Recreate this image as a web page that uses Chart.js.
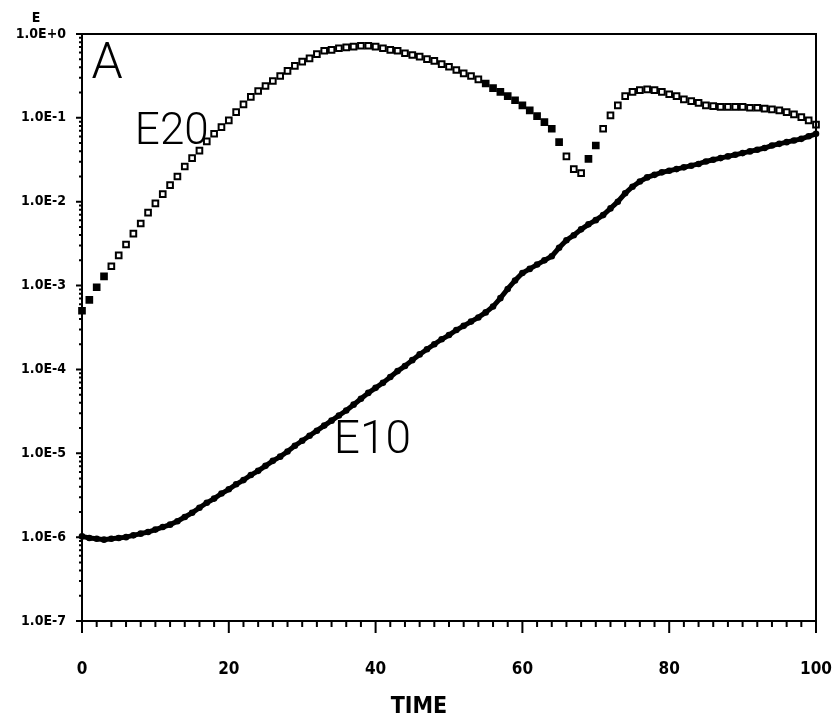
<!DOCTYPE html>
<html>
<head>
<meta charset="utf-8">
<script src="https://cdn.jsdelivr.net/npm/chart.js@4.4.0/dist/chart.umd.min.js"></script>
<style>
  html, body { margin: 0; padding: 0; background: #fff; }
  #wrap { width: 840px; height: 727px; }
</style>
</head>
<body>
<div id="wrap"><canvas id="energyChart"></canvas></div>
<script>
// time samples (one every unit)
const time = [
  0, 1, 2, 3, 4, 5, 6, 7, 8, 9, 10, 11, 12, 13, 14, 15, 16, 17, 18, 19,
  20, 21, 22, 23, 24, 25, 26, 27, 28, 29, 30, 31, 32, 33, 34, 35, 36, 37, 38, 39,
  40, 41, 42, 43, 44, 45, 46, 47, 48, 49, 50, 51, 52, 53, 54, 55, 56, 57, 58, 59,
  60, 61, 62, 63, 64, 65, 66, 67, 68, 69, 70, 71, 72, 73, 74, 75, 76, 77, 78, 79,
  80, 81, 82, 83, 84, 85, 86, 87, 88, 89, 90, 91, 92, 93, 94, 95, 96, 97, 98, 99, 100
];

// mode 1 energy
const e10 = [
  1.02e-6, 9.77e-7, 9.55e-7, 9.33e-7, 9.55e-7, 9.77e-7, 1.00e-6, 1.05e-6, 1.10e-6, 1.15e-6,
  1.23e-6, 1.32e-6, 1.41e-6, 1.55e-6, 1.74e-6, 1.95e-6, 2.24e-6, 2.57e-6, 2.88e-6, 3.31e-6,
  3.72e-6, 4.27e-6, 4.79e-6, 5.50e-6, 6.17e-6, 7.08e-6, 8.13e-6, 9.12e-6, 1.05e-5, 1.23e-5,
  1.41e-5, 1.62e-5, 1.86e-5, 2.14e-5, 2.45e-5, 2.82e-5, 3.24e-5, 3.80e-5, 4.47e-5, 5.25e-5,
  6.03e-5, 6.92e-5, 8.13e-5, 9.55e-5, 1.10e-4, 1.29e-4, 1.51e-4, 1.74e-4, 2.00e-4, 2.29e-4,
  2.57e-4, 2.95e-4, 3.31e-4, 3.72e-4, 4.17e-4, 4.79e-4, 5.62e-4, 7.08e-4, 9.12e-4, 1.15e-3,
  1.41e-3, 1.58e-3, 1.78e-3, 2.00e-3, 2.24e-3, 2.82e-3, 3.47e-3, 3.98e-3, 4.68e-3, 5.37e-3,
  6.03e-3, 6.92e-3, 8.32e-3, 1.00e-2, 1.26e-2, 1.51e-2, 1.74e-2, 1.95e-2, 2.09e-2, 2.24e-2,
  2.34e-2, 2.45e-2, 2.57e-2, 2.69e-2, 2.82e-2, 3.02e-2, 3.16e-2, 3.31e-2, 3.47e-2, 3.63e-2,
  3.80e-2, 3.98e-2, 4.17e-2, 4.37e-2, 4.68e-2, 4.90e-2, 5.13e-2, 5.37e-2, 5.62e-2, 6.03e-2,
  6.46e-2
];

// mode 2 energy
const e20 = [
  5.01e-4, 6.76e-4, 9.55e-4, 1.29e-3, 1.70e-3, 2.29e-3, 3.09e-3, 4.17e-3, 5.50e-3, 7.41e-3,
  9.55e-3, 1.23e-2, 1.58e-2, 2.00e-2, 2.63e-2, 3.31e-2, 4.07e-2, 5.25e-2, 6.46e-2, 7.76e-2,
  9.33e-2, 1.17e-1, 1.45e-1, 1.78e-1, 2.09e-1, 2.40e-1, 2.75e-1, 3.16e-1, 3.63e-1, 4.17e-1,
  4.68e-1, 5.13e-1, 5.75e-1, 6.31e-1, 6.46e-1, 6.76e-1, 6.92e-1, 7.08e-1, 7.24e-1, 7.24e-1,
  7.08e-1, 6.76e-1, 6.46e-1, 6.31e-1, 5.89e-1, 5.62e-1, 5.37e-1, 5.01e-1, 4.79e-1, 4.37e-1,
  4.07e-1, 3.72e-1, 3.39e-1, 3.16e-1, 2.88e-1, 2.57e-1, 2.26e-1, 2.04e-1, 1.82e-1, 1.62e-1,
  1.41e-1, 1.23e-1, 1.05e-1, 8.91e-2, 7.41e-2, 5.13e-2, 3.47e-2, 2.45e-2, 2.19e-2, 3.24e-2,
  4.68e-2, 7.41e-2, 1.07e-1, 1.41e-1, 1.82e-1, 2.04e-1, 2.14e-1, 2.19e-1, 2.14e-1, 2.04e-1,
  1.91e-1, 1.82e-1, 1.66e-1, 1.58e-1, 1.51e-1, 1.41e-1, 1.38e-1, 1.35e-1, 1.35e-1, 1.35e-1,
  1.35e-1, 1.32e-1, 1.32e-1, 1.29e-1, 1.26e-1, 1.23e-1, 1.17e-1, 1.10e-1, 1.02e-1, 9.33e-2,
  8.32e-2
];

// E20 samples that print as solid squares (overlapping output)
const e20Solid = [0, 1, 2, 3, 55, 56, 57, 58, 59, 60, 61, 62, 63, 64, 65, 69, 70];

const xTickValues = [0, 20, 40, 60, 80, 100];
const xTickLabels = ['0', '20', '40', '60', '80', '100'];
const yTickValues = [1e-7, 1e-6, 1e-5, 1e-4, 1e-3, 1e-2, 1e-1, 1];
const yTickLabels = ['1.0E-7', '1.0E-6', '1.0E-5', '1.0E-4', '1.0E-3', '1.0E-2', '1.0E-1', '1.0E+0'];

const curveLabels = [
  { text: 'A', t: 1.3, e: 0.42, size: 50 },
  { text: 'E20', t: 7.2, e: 0.066, size: 44 },
  { text: 'E10', t: 34.3, e: 1.38e-5, size: 46 }
];

const labelFont = '"DejaVu Sans Condensed", "DejaVu Sans", sans-serif';

// box, tick marks, axis names and in-plot labels
const plotDecor = {
  id: 'plotDecor',
  afterDraw(chart) {
    const { ctx, chartArea: a } = chart;
    const x = chart.scales.x, y = chart.scales.y;
    ctx.save();
    ctx.strokeStyle = '#000';
    ctx.lineWidth = 2;
    ctx.strokeRect(a.left, a.top, a.right - a.left, a.bottom - a.top);

    ctx.beginPath();
    for (let v = 0; v <= 100; v += 2) {
      const px = x.getPixelForValue(v);
      const len = v % 20 === 0 ? 12 : 6;
      ctx.moveTo(px, a.bottom);
      ctx.lineTo(px, a.bottom + len);
    }
    for (let i = 0; i < yTickValues.length; i++) {
      const d = yTickValues[i];
      for (let m = 1; m <= 9; m++) {
        if (i === yTickValues.length - 1 && m > 1) break;
        const py = y.getPixelForValue(m * d);
        const len = m === 1 ? 6 : 3;
        ctx.moveTo(a.left, py);
        ctx.lineTo(a.left - len, py);
      }
    }
    ctx.stroke();

    ctx.fillStyle = '#000';
    ctx.textAlign = 'center';
    ctx.textBaseline = 'middle';
    ctx.font = 'bold 14px ' + labelFont;
    ctx.fillText('E', 36, 18);
    ctx.font = 'bold 23px ' + labelFont;
    ctx.fillText('TIME', x.getPixelForValue(45.9), a.bottom + 86);

    ctx.textAlign = 'left';
    curveLabels.forEach(l => {
      ctx.font = '300 ' + l.size + 'px Roboto, sans-serif';
      ctx.fillText(l.text, x.getPixelForValue(l.t), y.getPixelForValue(l.e));
    });
    ctx.restore();
  }
};

new Chart(document.getElementById('energyChart'), {
  type: 'scatter',
  data: {
    labels: time,
    datasets: [
      {
        label: 'E10',
        data: time.map((t, i) => ({ x: t, y: e10[i] })),
        showLine: true,
        borderColor: '#000',
        borderWidth: 5,
        backgroundColor: '#000',
        pointBackgroundColor: '#000',
        pointBorderWidth: 0,
        pointRadius: 3.3,
        pointStyle: 'circle',
        clip: false
      },
      {
        label: 'E20',
        data: time.map((t, i) => ({ x: t, y: e20[i] })),
        showLine: false,
        borderColor: '#000',
        pointBorderColor: '#000',
        pointBackgroundColor: time.map((t, i) => e20Solid.includes(i) ? '#000' : '#fff'),
        pointBorderWidth: 2,
        pointRadius: 4,
        pointStyle: 'rect',
        clip: false
      }
    ]
  },
  options: {
    responsive: true,
    maintainAspectRatio: false,
    animation: false,
    layout: { padding: { left: 0, top: 34, right: 24, bottom: 0 } },
    plugins: {
      legend: { display: false },
      tooltip: { enabled: false }
    },
    scales: {
      x: {
        type: 'linear',
        min: 0,
        max: 100,
        afterFit: (scale) => {
          scale.height = 106;
          scale.paddingLeft = 0;
          scale.paddingRight = 0;
        },
        afterBuildTicks: (scale) => { scale.ticks = xTickValues.map(v => ({ value: v })); },
        grid: { display: false, drawTicks: false },
        border: { display: false },
        ticks: {
          color: '#000',
          padding: 38,
          maxRotation: 0,
          autoSkip: false,
          font: { family: labelFont, size: 17, weight: 'bold' },
          callback: (v) => xTickLabels[xTickValues.indexOf(v)]
        }
      },
      y: {
        type: 'logarithmic',
        min: 1e-7,
        max: 1,
        afterFit: (scale) => {
          scale.width = 82;
          scale.paddingTop = 0;
          scale.paddingBottom = 0;
        },
        afterBuildTicks: (scale) => { scale.ticks = yTickValues.map(v => ({ value: v })); },
        grid: { display: false, drawTicks: false },
        border: { display: false },
        ticks: {
          color: '#000',
          padding: 16,
          autoSkip: false,
          font: { family: labelFont, size: 14, weight: 'bold' },
          callback: function (v, i) { return yTickLabels[i]; }
        }
      }
    }
  },
  plugins: [plotDecor]
});
</script>
</body>
</html>
